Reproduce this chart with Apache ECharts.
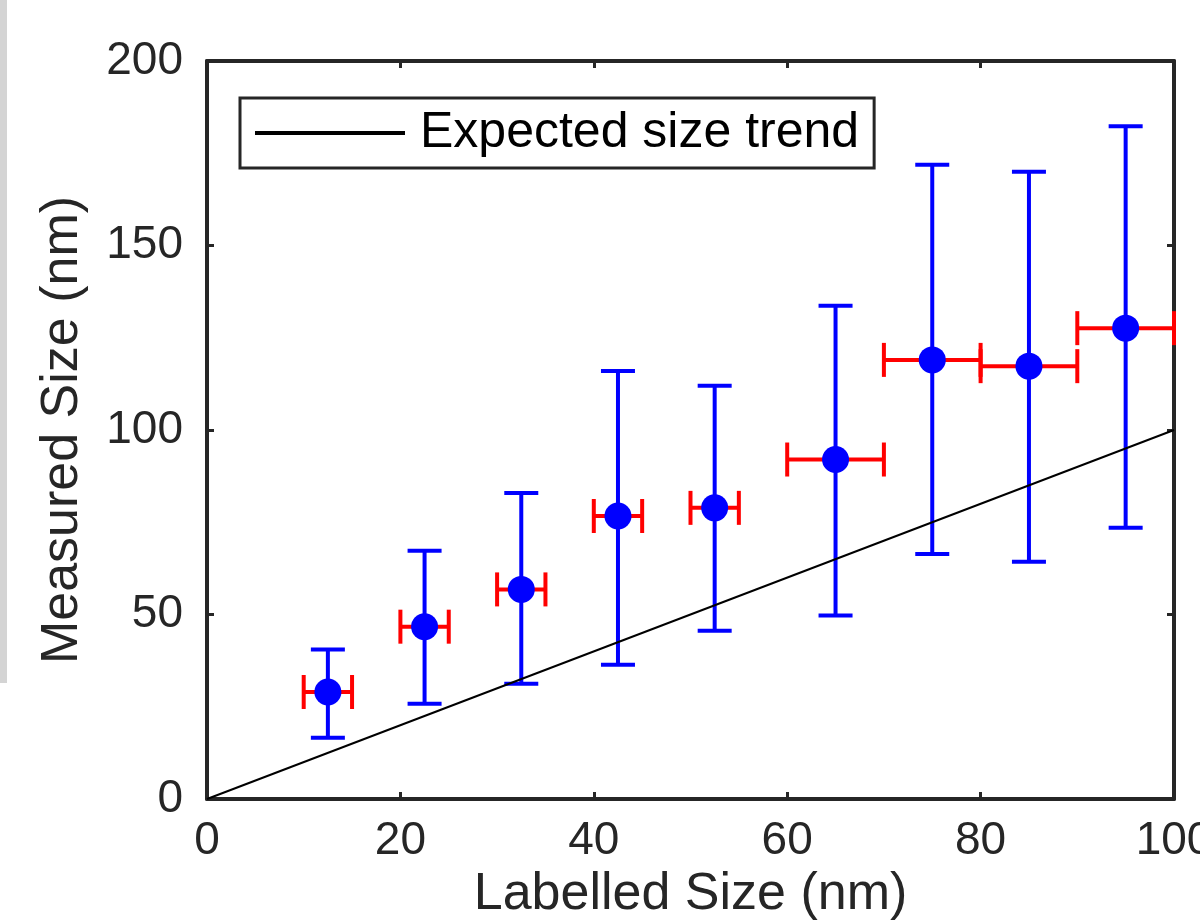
<!DOCTYPE html>
<html>
<head>
<meta charset="utf-8">
<script src="https://cdn.jsdelivr.net/npm/echarts@6/dist/echarts.min.js"></script>
<style>
  html, body { margin: 0; padding: 0; background: #ffffff; }
  #chart { width: 1200px; height: 922px; }
</style>
</head>
<body>
<div id="chart"></div>
<script>
// ---- Data ----
const xVals  = [12.5, 22.5, 32.5, 42.5, 52.5, 65, 75, 85, 95];
const yVals  = [29, 46.7, 56.8, 76.7, 78.9, 92, 119, 117.3, 127.6];
const yLow   = [16.6, 25.8, 31.2, 36.4, 45.6, 49.7, 66.4, 64.3, 73.5];
const yHigh  = [40.5, 67.3, 82.9, 116, 112, 133.7, 171.9, 170, 182.3];
const xLow   = [10, 20, 30, 40, 50, 60, 70, 80, 90];
const xHigh  = [15, 25, 35, 45, 55, 70, 80, 90, 100];
const trendX = [0, 100];
const trendY = [0, 100];
const xTicks = [0, 20, 40, 60, 80, 100];
const yTicks = [0, 50, 100, 150, 200];
const legendName = 'Expected size trend';
const xTitle = 'Labelled Size (nm)';
const yTitle = 'Measured Size (nm)';

const FONT = '"Liberation Sans", Arial, Helvetica, sans-serif';
const INK = '#262626';

const errRows = xVals.map((x, i) => [x, yVals[i], xLow[i], xHigh[i], yLow[i], yHigh[i]]);
const pts = xVals.map((x, i) => [x, yVals[i]]);
const trend = trendX.map((x, i) => [x, trendY[i]]);

const chart = echarts.init(document.getElementById('chart'), null, { renderer: 'canvas' });

const axisCommon = {
  type: 'value',
  splitLine: { show: false },
  axisLine: { show: true, onZero: false, lineStyle: { color: INK, width: 4 } },
  axisTick: { show: true, inside: true, length: 7, lineStyle: { color: INK, width: 3 } }
};

chart.setOption({
  animation: false,
  backgroundColor: '#ffffff',
  textStyle: { fontFamily: FONT },
  graphic: [{
    type: 'rect', left: 0, top: 0, z: -1,
    shape: { width: 7, height: 683 },
    style: { fill: '#d4d4d4' }
  }],
  grid: { left: 207, top: 61, right: 26, bottom: 123, containLabel: false, outerBoundsMode: 'none' },
  legend: {
    data: [{ name: legendName, icon: 'rect' }],
    left: 240, top: 98,
    orient: 'horizontal',
    padding: [9, 15, 9, 15],
    itemWidth: 150, itemHeight: 4,
    backgroundColor: '#ffffff',
    borderColor: INK, borderWidth: 3, borderRadius: 0,
    itemStyle: { color: '#000000', borderWidth: 0 },
    textStyle: { fontFamily: FONT, fontSize: 50, lineHeight: 52, color: '#000000', padding: [0, 0, 0, 10] }
  },
  xAxis: [
    Object.assign({}, axisCommon, {
      min: xTicks[0], max: xTicks[xTicks.length - 1], interval: 20,
      position: 'bottom',
      name: xTitle, nameLocation: 'middle', nameGap: 70,
      nameTextStyle: { fontFamily: FONT, fontSize: 52, color: INK },
      axisLabel: { show: true, margin: 19, fontFamily: FONT, fontSize: 46, color: INK }
    }),
    Object.assign({}, axisCommon, {
      min: xTicks[0], max: xTicks[xTicks.length - 1], interval: 20,
      position: 'top',
      axisLabel: { show: false }
    })
  ],
  yAxis: [
    Object.assign({}, axisCommon, {
      min: yTicks[0], max: yTicks[yTicks.length - 1], interval: 50,
      position: 'left',
      name: yTitle, nameLocation: 'middle', nameGap: 118, nameRotate: 90,
      nameTextStyle: { fontFamily: FONT, fontSize: 52, color: INK },
      axisLabel: { show: true, margin: 24, fontFamily: FONT, fontSize: 46, color: INK }
    }),
    Object.assign({}, axisCommon, {
      min: yTicks[0], max: yTicks[yTicks.length - 1], interval: 50,
      position: 'right',
      axisLabel: { show: false }
    })
  ],
  series: [
    {
      name: 'errors',
      type: 'custom',
      xAxisIndex: 0, yAxisIndex: 0,
      clip: false,
      z: 2,
      data: errRows,
      encode: { x: 0, y: 1 },
      renderItem: function (params, api) {
        const x = api.value(0), y = api.value(1);
        const xl = api.coord([api.value(2), y]);
        const xh = api.coord([api.value(3), y]);
        const lo = api.coord([x, api.value(4)]);
        const hi = api.coord([x, api.value(5)]);
        const cap = 17;
        const red = { stroke: '#ff0000', lineWidth: 4, fill: null };
        const blue = { stroke: '#0000ff', lineWidth: 4, fill: null };
        return {
          type: 'group',
          children: [
            { type: 'line', shape: { x1: xl[0], y1: xl[1], x2: xh[0], y2: xh[1] }, style: red },
            { type: 'line', shape: { x1: xl[0], y1: xl[1] - cap, x2: xl[0], y2: xl[1] + cap }, style: red },
            { type: 'line', shape: { x1: xh[0], y1: xh[1] - cap, x2: xh[0], y2: xh[1] + cap }, style: red },
            { type: 'line', shape: { x1: lo[0], y1: lo[1], x2: hi[0], y2: hi[1] }, style: blue },
            { type: 'line', shape: { x1: lo[0] - cap, y1: lo[1], x2: lo[0] + cap, y2: lo[1] }, style: blue },
            { type: 'line', shape: { x1: hi[0] - cap, y1: hi[1], x2: hi[0] + cap, y2: hi[1] }, style: blue }
          ]
        };
      }
    },
    {
      name: legendName,
      type: 'line',
      xAxisIndex: 0, yAxisIndex: 0,
      z: 3,
      data: trend,
      showSymbol: false, symbol: 'none',
      lineStyle: { color: '#000000', width: 2 },
      itemStyle: { color: '#000000' }
    },
    {
      name: 'points',
      type: 'scatter',
      xAxisIndex: 0, yAxisIndex: 0,
      z: 4,
      data: pts,
      symbol: 'circle', symbolSize: 27,
      itemStyle: { color: '#0000ff', opacity: 1 }
    }
  ]
});
</script>
</body>
</html>
